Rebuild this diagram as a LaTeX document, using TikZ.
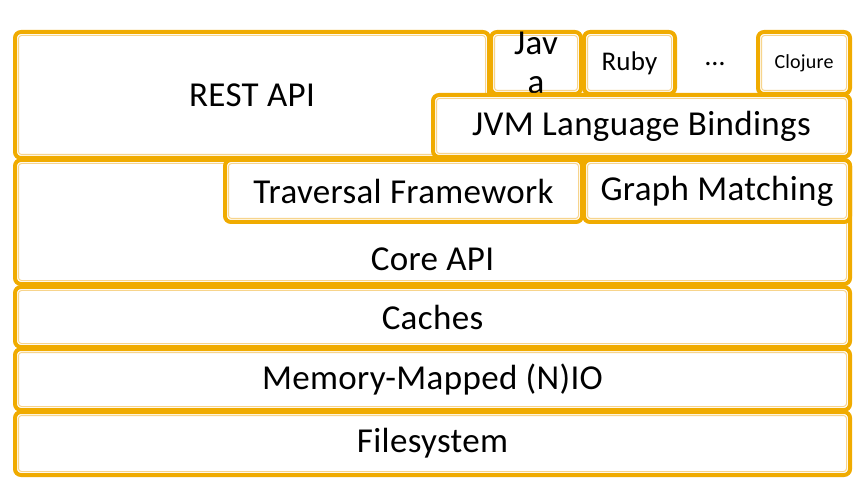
\documentclass[tikz,border=0pt]{standalone}
\usepackage{fontspec}
\setmainfont{Carlito}[LetterSpace=1]
\usepackage{tikz}
\usetikzlibrary{calc,positioning}
\definecolor{gold}{RGB}{240,171,0}
\definecolor{pale}{RGB}{247,212,140}

\begin{document}
\begin{tikzpicture}[x=1bp,y=-1bp,
layer/.style={draw=gold,line width=4bp,fill=white,rounded corners=6bp,inner sep=0pt,anchor=north west,align=center,font=\fontsize{35bp}{39bp}\selectfont,
path picture={\draw[pale,line width=1bp,rounded corners=3bp] ([shift={(3.5bp,-3.5bp)}]path picture bounding box.north west) rectangle ([shift={(-3.5bp,3.5bp)}]path picture bounding box.south east);}},
lang/.style={layer,minimum width=#1,minimum height=62bp}]
\useasboundingbox (0,0) rectangle (858,496);
\node[layer,minimum width=474bp,minimum height=126bp] (rest) at (13,30) {REST API};
\node[lang=90bp] (java) at (489,30) {Jav\\a};
\node[lang=91bp,font=\fontsize{27bp}{30bp}\selectfont] (ruby) at (582,30) {Ruby};
\node[font=\fontsize{28bp}{30bp}\selectfont] (dots) at (715,64) {\dots};
\node[lang=92bp,font=\fontsize{20bp}{24bp}\selectfont] (clojure) at (756,30) {Clojure};
\node[lang=417bp] (jvm) at (431,93) {JVM Language Bindings};
\node[layer,minimum width=835bp,minimum height=124bp] (core) at (13,158) {};
\node[font=\fontsize{35bp}{39bp}\selectfont] (corelabel) at ($(core.south)+(0,-27)$) {Core API};
\node[lang=357bp] (traversal) at (223,158) {Traversal Framework};
\node[lang=266bp] (matching) at (582,158) {Graph Matching};
\node[layer,minimum width=835bp,minimum height=60bp] (caches) at (13,285) {Caches};
\node[layer,minimum width=835bp,minimum height=61bp] (nio) at (13,347) {Memory-Mapped (N)IO};
\node[layer,minimum width=835bp,minimum height=63bp] (fs) at (13,410) {Filesystem};
\end{tikzpicture}
\end{document}
